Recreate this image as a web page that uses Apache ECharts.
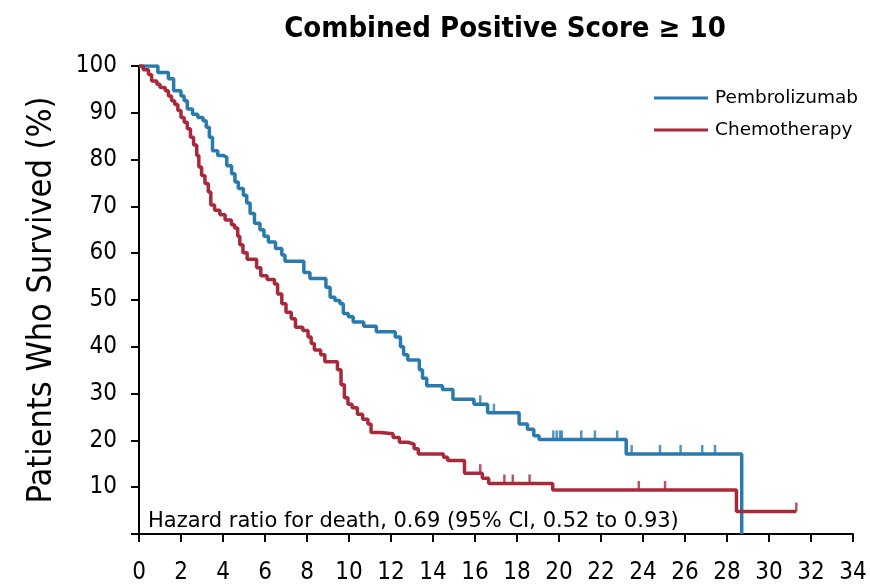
<!DOCTYPE html>
<html>
<head>
<meta charset="utf-8">
<title>Combined Positive Score ≥ 10</title>
<script src="https://cdn.jsdelivr.net/npm/echarts@6/dist/echarts.min.js"></script>
<style>
  html, body { margin: 0; padding: 0; background: #fff; }
  #chart { width: 870px; height: 585px; }
</style>
</head>
<body>
<div id="chart"></div>
<script>
// Kaplan-Meier steps: [month, % surviving from that month on]
const pembroSteps = [
  [0, 100], [0.9, 98.6], [1.4, 97.3], [1.65, 94.7], [2.0, 93.6], [2.15, 92.6], [2.3, 90.8],
  [2.55, 89.7], [2.8, 89.0], [3.05, 88.3], [3.2, 86.9], [3.35, 84.8], [3.5, 81.9], [3.75, 80.9],
  [4.0, 80.5], [4.18, 78.7], [4.41, 77.0], [4.57, 75.2], [4.73, 73.8], [4.97, 72.4], [5.13, 70.7],
  [5.29, 68.5], [5.5, 66.4], [5.76, 65.0], [5.95, 63.6], [6.16, 62.4], [6.5, 61.0], [6.8, 59.6],
  [6.95, 58.3], [7.85, 55.9], [8.14, 54.6], [8.9, 52.7], [9.1, 50.6], [9.33, 49.9], [9.57, 49.2],
  [9.73, 47.1], [9.97, 46.4], [10.2, 45.3], [10.7, 44.4], [11.3, 43.2], [12.2, 42.1], [12.45, 40.0],
  [12.6, 38.3], [12.8, 37.2], [13.35, 35.1], [13.5, 33.3], [13.7, 31.7], [14.45, 30.9], [14.95, 28.8],
  [15.95, 27.7], [16.6, 25.9], [18.1, 23.5], [18.5, 22.4], [18.8, 21.0], [19.05, 20.2], [23.2, 17.1],
  [28.7, 0]
];
const chemoSteps = [
  [0, 100], [0.2, 99.2], [0.45, 98.2], [0.6, 96.8], [0.85, 96.1], [1.0, 95.4], [1.25, 94.7],
  [1.4, 93.6], [1.55, 92.6], [1.7, 91.8], [1.85, 90.5], [2.0, 89.0], [2.15, 88.0], [2.3, 86.6],
  [2.45, 84.8], [2.6, 83.1], [2.75, 80.9], [2.85, 78.4], [2.98, 76.6], [3.14, 74.9], [3.3, 73.1],
  [3.42, 70.3], [3.6, 69.2], [3.85, 68.2], [4.1, 67.1], [4.4, 66.1], [4.55, 65.4], [4.7, 63.6],
  [4.8, 61.8], [4.95, 60.1], [5.15, 58.7], [5.6, 56.9], [5.8, 55.2], [6.1, 54.4], [6.45, 53.4],
  [6.6, 51.3], [6.8, 49.2], [7.0, 47.4], [7.25, 46.0], [7.45, 44.2], [7.8, 43.5], [8.05, 42.1],
  [8.2, 40.7], [8.35, 39.3], [8.65, 38.3], [8.85, 36.8], [9.45, 35.1], [9.62, 31.9], [9.78, 29.1],
  [9.95, 27.7], [10.15, 27.0], [10.4, 25.6], [10.65, 24.5], [10.9, 23.5], [11.05, 21.7], [11.5, 21.4],
  [12.1, 20.6], [12.4, 19.6], [12.8, 19.2], [13.1, 18.2], [13.3, 17.1], [14.5, 16.4], [14.7, 15.7],
  [15.5, 13.0], [16.35, 11.9], [16.65, 10.8], [19.7, 9.4], [28.45, 4.8], [31.3, 4.8]
];
// censored observations (tick marks)
const pembroCensor = [
  [16.25, 27.7], [16.9, 25.9], [19.73, 20.2], [19.89, 20.2], [20.05, 20.2], [20.13, 20.2],
  [21.06, 20.2], [21.71, 20.2], [22.77, 20.2], [23.46, 17.1], [24.81, 17.1], [25.79, 17.1],
  [26.82, 17.1], [27.43, 17.1]
];
const chemoCensor = [
  [16.25, 13.0], [17.4, 10.8], [17.8, 10.8], [18.6, 10.8], [23.8, 9.4], [25.05, 9.4], [31.3, 4.8]
];
const xTicks = [0, 34, 2];   // min, max, step (months)
const yTicks = [0, 100, 10]; // min, max, step (%)

const blue = '#2a7bad';
const red = '#a82a3a';
const narrow = '"Liberation Sans Narrow", "DejaVu Sans Condensed", "Liberation Sans", sans-serif';
const wide = '"DejaVu Sans", sans-serif';

const chart = echarts.init(document.getElementById('chart'));

chart.setOption({
  animation: false,
  title: {
    text: 'Combined Positive Score ≥ 10',
    left: 500,
    top: 10,
    textAlign: 'center',
    textStyle: { fontFamily: narrow, fontSize: 29, fontWeight: 'bold', color: '#000' }
  },
  legend: {
    data: ['Pembrolizumab', 'Chemotherapy'],
    orient: 'vertical',
    left: 654,
    top: 88,
    padding: 0,
    itemWidth: 54,
    itemHeight: 3,
    itemGap: 12,
    icon: 'rect',
    textStyle: { fontFamily: wide, fontSize: 18.5, color: '#000', lineHeight: 20, padding: [0, 0, 0, 2] }
  },
  grid: { left: 139, right: 17, top: 66, bottom: 46, containLabel: false },
  xAxis: {
    type: 'value',
    min: xTicks[0],
    max: xTicks[1],
    interval: xTicks[2],
    splitLine: { show: false },
    axisLine: { lineStyle: { color: '#000', width: 2 } },
    axisTick: { length: 8, lineStyle: { color: '#000', width: 2 } },
    axisLabel: { fontFamily: narrow, fontSize: 24, color: '#000', margin: 27 }
  },
  yAxis: {
    type: 'value',
    min: yTicks[0],
    max: yTicks[1],
    interval: yTicks[2],
    name: 'Patients Who Survived (%)',
    nameLocation: 'middle',
    nameRotate: 90,
    nameGap: 80,
    nameTextStyle: { fontFamily: narrow, fontSize: 34, color: '#000' },
    splitLine: { show: false },
    axisLine: { lineStyle: { color: '#000', width: 2 } },
    axisTick: { length: 8, lineStyle: { color: '#000', width: 2 } },
    axisLabel: {
      fontFamily: narrow, fontSize: 24, color: '#000', margin: 22,
      formatter: v => (v === 0 ? '' : v)
    }
  },
  graphic: [{
    type: 'text',
    left: 148,
    top: 511,
    style: {
      text: 'Hazard ratio for death, 0.69 (95% CI, 0.52 to 0.93)',
      font: '21px "DejaVu Sans", sans-serif',
      fill: '#000'
    }
  }],
  series: [
    {
      name: 'Pembrolizumab',
      type: 'line',
      step: 'end',
      data: pembroSteps,
      showSymbol: false,
      color: blue,
      lineStyle: { width: 3.5, color: blue }
    },
    {
      name: 'Chemotherapy',
      type: 'line',
      step: 'end',
      data: chemoSteps,
      showSymbol: false,
      color: red,
      lineStyle: { width: 3.5, color: red }
    },
    {
      name: 'Pembrolizumab censored',
      type: 'scatter',
      data: pembroCensor,
      symbol: 'rect',
      symbolSize: [2.5, 9],
      symbolOffset: [0, '-50%'],
      itemStyle: { color: blue }
    },
    {
      name: 'Chemotherapy censored',
      type: 'scatter',
      data: chemoCensor,
      symbol: 'rect',
      symbolSize: [2.5, 9],
      symbolOffset: [0, '-50%'],
      itemStyle: { color: red }
    }
  ]
});
</script>
</body>
</html>
